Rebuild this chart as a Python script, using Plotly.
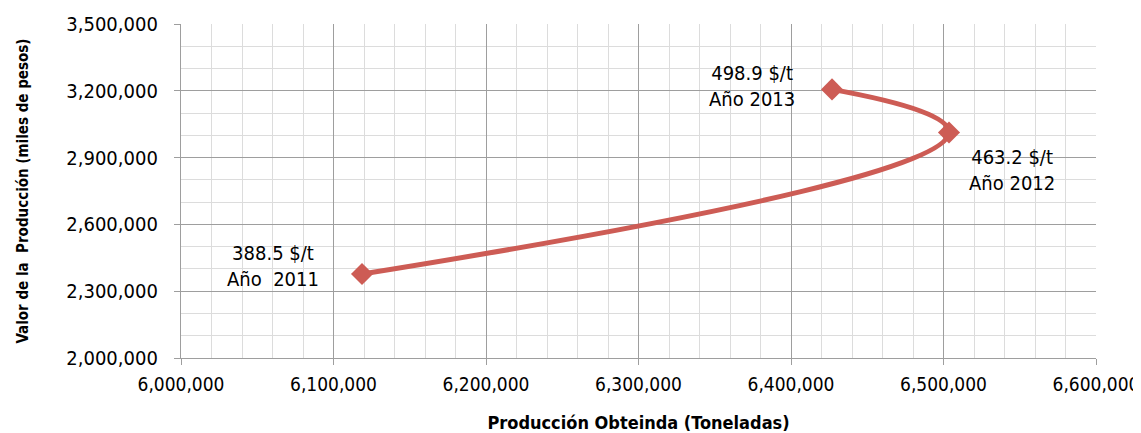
import plotly.graph_objects as go

produccion = [6118700, 6503600, 6426900]
valor = [2377000, 3012500, 3206300]
precios = ["388.5 $/t", "463.2 $/t", "498.9 $/t"]
anios = ["Año  2011", "Año 2012", "Año 2013"]
label_shift = [(-89, 8), (63, -37), (-80, 3)]

color = "#CD5C55"
font = "DejaVu Sans Condensed, Liberation Sans Narrow, Roboto, sans-serif"

fig = go.Figure()
fig.add_trace(go.Scatter(
    x=produccion, y=valor, mode="lines+markers",
    line=dict(color=color, width=5, shape="spline", smoothing=1.3),
    marker=dict(symbol="diamond", size=17, color=color),
    showlegend=False, hoverinfo="skip"))

for x, y, p, a, (dx, dy) in zip(produccion, valor, precios, anios, label_shift):
    fig.add_annotation(x=x, y=y, text=f"{p}<br>{a}", showarrow=False,
                       xshift=dx, yshift=dy, font=dict(family=font, size=20, color="#000"),
                       align="center")

fig.update_layout(
    width=1133, height=425,
    margin=dict(l=173, r=45, t=16, b=75, autoexpand=False),
    paper_bgcolor="white", plot_bgcolor="white",
    font=dict(family=font, size=20, color="#000"),
)
fig.update_xaxes(
    range=[6000000, 6600000], tickvals=[6000000 + 100000 * i for i in range(7)],
    tickformat=",d", showgrid=True, gridcolor="#9E9E9E", gridwidth=1.3,
    minor=dict(dtick=20000, showgrid=True, gridcolor="#DCDCDC", gridwidth=1.3),
    showline=True, linecolor="#9E9E9E", linewidth=1.3,
    ticks="outside", ticklen=6, tickcolor="#9E9E9E", zeroline=False, automargin=False,
    ticklabelstandoff=3, ticklabeloverflow="allow", tickfont=dict(size=19),
    title=dict(text="<b>Producción Obteinda (Toneladas)</b>", font=dict(family=font, size=18), standoff=24),
)
fig.update_yaxes(
    range=[2000000, 3500000], tickvals=[2000000 + 300000 * i for i in range(6)],
    tickformat=",d", showgrid=True, gridcolor="#9E9E9E", gridwidth=1.3,
    minor=dict(dtick=100000, showgrid=True, gridcolor="#DCDCDC", gridwidth=1.3),
    showline=True, linecolor="#9E9E9E", linewidth=1.3,
    ticks="outside", ticklen=6, tickcolor="#9E9E9E", zeroline=False, automargin=False,
    ticklabelstandoff=12,
    title=dict(text="<b>Valor de la  Producción (miles de pesos)</b>", font=dict(family=font, size=15), standoff=34),
)

fig.write_html("out.html")
